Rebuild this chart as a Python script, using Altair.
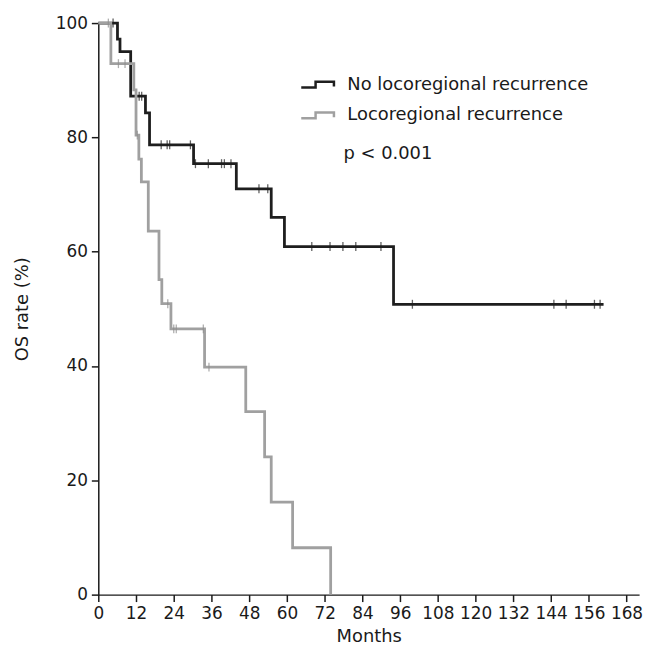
import altair as alt
import pandas as pd

# --- data ---
series_names = ["No locoregional recurrence", "Locoregional recurrence"]

times_no = [0, 6.1, 6.9, 10.3, 15.0, 16.3, 30.3, 43.9, 55.0, 59.2, 93.9, 160.7]
surv_no = [100, 97.2, 95.0, 87.2, 84.3, 78.7, 75.4, 71.0, 66.0, 60.9, 50.8, 50.8]
censor_no = [4.7, 13.0, 13.8, 20.0, 21.9, 22.7, 29.3, 30.9, 35.0, 39.2, 40.1, 42.2,
             51.1, 53.9, 67.9, 73.7, 77.8, 81.9, 89.9, 99.9, 144.9, 148.8, 157.8, 159.6]

times_lr = [0, 4.0, 11.3, 12.0, 12.9, 13.7, 15.9, 19.3, 20.2, 23.1, 33.8, 46.9, 52.9, 55.0, 61.8, 73.9]
surv_lr = [100, 92.9, 88.3, 80.4, 76.2, 72.2, 63.6, 55.1, 50.9, 46.5, 39.8, 32.0, 24.1, 16.2, 8.2, 0]
censor_lr = [3.2, 6.4, 8.5, 12.4, 22.1, 24.0, 24.8, 33.4, 35.2]

x_ticks = list(range(0, 169, 12))
y_ticks = [0, 20, 40, 60, 80, 100]
p_text = "p < 0.001"


def step_value(times, surv, t):
    v = surv[0]
    for tt, ss in zip(times, surv):
        if tt <= t:
            v = ss
    return v


rows = []
for i, (t, s) in enumerate(zip(times_no, surv_no)):
    rows.append({"month": t, "rate": s, "group": series_names[0], "order": i})
for i, (t, s) in enumerate(zip(times_lr, surv_lr)):
    rows.append({"month": t, "rate": s, "group": series_names[1], "order": i})
curves = pd.DataFrame(rows)

crows = []
for t in censor_no:
    crows.append({"month": t, "rate": step_value(times_no, surv_no, t), "group": series_names[0]})
for t in censor_lr:
    crows.append({"month": t, "rate": step_value(times_lr, surv_lr, t), "group": series_names[1]})
censors = pd.DataFrame(crows)

annot = pd.DataFrame([{"month": 78.0, "rate": 77.0, "label": p_text}])

FONT = "DejaVu Sans"

x_scale = alt.Scale(domain=[0, 172], nice=False, zero=False)
y_scale = alt.Scale(domain=[0, 100], nice=False)

color_scale = alt.Scale(domain=series_names, range=["#1e1e1e", "#a0a0a0"])
tick_color_scale = alt.Scale(domain=series_names, range=["#1e1e1e", "#8c8c8c"])

legend_path = "M-1.22,0.22L-0.15,0.22L-0.15,-0.22L1.22,-0.22L1.22,0.15"

x_axis = alt.Axis(values=x_ticks, title="Months", titlePadding=6,
                  labelOverlap=False, labelFlush=False, tickCount=15)
y_axis = alt.Axis(values=y_ticks, title="OS rate (%)", titlePadding=24,
                  labelOverlap=False, labelFlush=False)


def xe():
    return alt.X("month:Q", scale=x_scale, axis=x_axis)


def ye():
    return alt.Y("rate:Q", scale=y_scale, axis=y_axis)


lines = alt.Chart(curves).mark_line(interpolate="step-after", strokeWidth=2.8).encode(
    x=xe(),
    y=ye(),
    order=alt.Order("order:Q"),
    color=alt.Color(
        "group:N", scale=color_scale, sort=series_names,
        legend=alt.Legend(
            title=None, orient="none", legendX=206, legendY=47,
            symbolType=legend_path, symbolSize=729, symbolStrokeWidth=2.5,
            symbolFillColor="transparent",
            labelFont=FONT, labelFontSize=18, labelColor="#1a1a1a",
            labelOffset=15, rowPadding=7, labelLimit=500,
        ),
    ),
    detail="group:N",
)

ticks = alt.Chart(censors).mark_tick(orient="vertical", size=9, thickness=1.3).encode(
    x=xe(),
    y=ye(),
    color=alt.Color("group:N", scale=tick_color_scale, legend=None),
)

text = alt.Chart(annot).mark_text(
    align="left", baseline="middle", font=FONT, fontSize=18, color="#1a1a1a"
).encode(
    x=xe(),
    y=ye(),
    text="label:N",
)

chart = alt.layer(lines, ticks, text).resolve_scale(color="independent").properties(
    width=545,
    height=576,
    autosize="none",
    background="white",
    padding={"left": 91, "top": 12.7, "right": 12, "bottom": 53},
).configure_view(stroke=None).configure_axis(
    grid=False,
    labelFont=FONT,
    labelFontSize=17,
    labelColor="#1a1a1a",
    titleFont=FONT,
    titleFontSize=18,
    titleFontWeight="normal",
    titleColor="#1a1a1a",
    domainColor="#1a1a1a",
    domainWidth=1.5,
    tickColor="#1a1a1a",
    tickWidth=1.5,
    tickSize=7,
    labelPadding=4,
)

chart.save("out.html", embed_options={"renderer": "svg", "actions": False})
